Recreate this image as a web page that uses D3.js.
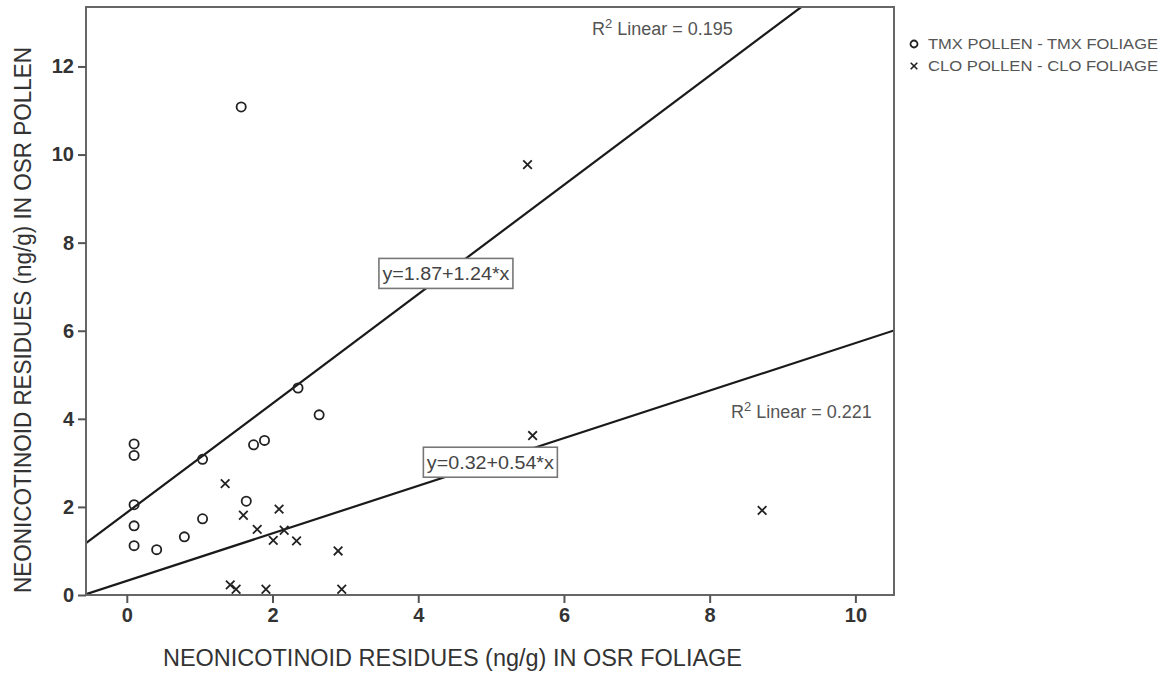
<!DOCTYPE html>
<html>
<head>
<meta charset="utf-8">
<script src="https://cdn.jsdelivr.net/npm/d3@7"></script>
<style>
  body { margin: 0; background: #fff; }
  text { font-family: "Liberation Sans", Arial, sans-serif; }
</style>
</head>
<body>
<svg id="chart"></svg>
<script>
// TMX pollen vs TMX foliage (circles)
const tmxFoliage = [0.10, 0.10, 0.10, 0.10, 0.10, 0.41, 0.79, 1.04, 1.04, 1.64, 1.74, 1.89, 2.35, 2.64, 1.57];
const tmxPollen  = [3.43, 3.17, 2.05, 1.57, 1.12, 1.03, 1.32, 1.73, 3.08, 2.13, 3.41, 3.51, 4.70, 4.09, 11.08];

// CLO pollen vs CLO foliage (crosses)
const cloFoliage = [1.35, 1.60, 1.79, 2.09, 2.01, 2.16, 2.33, 2.90, 1.42, 1.50, 1.91, 2.95, 5.50, 5.57, 8.72];
const cloPollen  = [2.53, 1.81, 1.49, 1.95, 1.24, 1.47, 1.23, 1.00, 0.23, 0.13, 0.13, 0.13, 9.77, 3.62, 1.92];

// fit lines: intercept, slope
const fitTmx = [1.87, 1.24];
const fitClo = [0.32, 0.54];

const xTicks = [0, 2, 4, 6, 8, 10];
const yTicks = [0, 2, 4, 6, 8, 10, 12];
const legendLabels = ["TMX POLLEN - TMX FOLIAGE", "CLO POLLEN - CLO FOLIAGE"];

const width = 1173, height = 674;
const margin = { left: 86, top: 7, right: 279, bottom: 79 };
const plotW = width - margin.left - margin.right;
const plotH = height - margin.top - margin.bottom;

const svg = d3.select('#chart')
    .attr('width', width)
    .attr('height', height);

const x = d3.scaleLinear().domain([-0.56, 10.53]).range([0, plotW]);
const y = d3.scaleLinear().domain([0, 13.35]).range([plotH, 0]);

const g = svg.append('g').attr('transform', `translate(${margin.left},${margin.top})`);

g.append('defs').append('clipPath').attr('id', 'clip')
    .append('rect').attr('width', plotW).attr('height', plotH);

// fit lines
function fitLine(fit) {
    const x0 = x.domain()[0], x1 = x.domain()[1];
    return [[x0, fit[0] + fit[1] * x0], [x1, fit[0] + fit[1] * x1]];
}
const line = d3.line().x(d => x(d[0])).y(d => y(d[1]));
[fitTmx, fitClo].forEach(f => {
    g.append('path')
        .attr('d', line(fitLine(f)))
        .attr('clip-path', 'url(#clip)')
        .style('fill', 'none')
        .style('stroke', '#1a1a1a')
        .style('stroke-width', 2.2);
});

// circles
g.selectAll('.tmx')
    .data(tmxFoliage.map((v, i) => [v, tmxPollen[i]]))
    .enter().append('circle')
    .attr('class', 'tmx')
    .attr('cx', d => x(d[0]))
    .attr('cy', d => y(d[1]))
    .attr('r', 4.6)
    .style('fill', 'none')
    .style('stroke', '#222')
    .style('stroke-width', 1.8);

// crosses
const cross = d3.symbol().type(d3.symbolX).size(50);
g.selectAll('.clo')
    .data(cloFoliage.map((v, i) => [v, cloPollen[i]]))
    .enter().append('path')
    .attr('class', 'clo')
    .attr('transform', d => `translate(${x(d[0])},${y(d[1])})`)
    .attr('d', cross)
    .style('fill', 'none')
    .style('stroke', '#222')
    .style('stroke-width', 1.8);

// equation boxes, centred on the fit line
function eqBox(fit, xVal, label) {
    const bx = g.append('g').attr('transform', `translate(${x(xVal)},${y(fit[0] + fit[1] * xVal)})`);
    bx.append('rect')
        .attr('x', -67).attr('y', -15)
        .attr('width', 134).attr('height', 30)
        .style('fill', '#fff')
        .style('stroke', '#777')
        .style('stroke-width', 1.6);
    bx.append('text')
        .attr('text-anchor', 'middle')
        .attr('dy', '0.36em')
        .attr('textLength', 127)
        .attr('lengthAdjust', 'spacingAndGlyphs')
        .style('font-size', '18px')
        .style('fill', '#444')
        .text(label);
}
eqBox(fitTmx, 4.38, 'y=1.87+1.24*x');
eqBox(fitClo, 4.99, 'y=0.32+0.54*x');

// R2 labels
function r2(xp, yp, val) {
    const t = g.append('text')
        .attr('x', xp).attr('y', yp)
        .style('font-size', '18px')
        .style('fill', '#555');
    t.append('tspan').text('R');
    t.append('tspan').attr('dy', -7).style('font-size', '13px').text('2');
    t.append('tspan').attr('dy', 7).text(' Linear = ' + val);
}
r2(506, 28, '0.195');
r2(645, 411, '0.221');

// frame
g.append('rect')
    .attr('width', plotW).attr('height', plotH)
    .style('fill', 'none')
    .style('stroke', '#666')
    .style('stroke-width', 2);

// axes
const xAxis = g.append('g')
    .attr('transform', `translate(0,${plotH})`)
    .call(d3.axisBottom(x).tickValues(xTicks).tickSize(8).tickSizeOuter(0).tickPadding(5));
const yAxis = g.append('g')
    .call(d3.axisLeft(y).tickValues(yTicks).tickSize(8).tickSizeOuter(0).tickPadding(4));
[xAxis, yAxis].forEach(a => {
    a.select('.domain').remove();
    a.selectAll('line').style('stroke', '#555').style('stroke-width', 2);
    a.selectAll('text')
        .style('font-family', '"Liberation Sans", Arial, sans-serif')
        .style('font-size', '20px')
        .style('font-weight', 'bold')
        .style('fill', '#333');
});

// axis titles
svg.append('text')
    .attr('x', 163).attr('y', 666)
    .attr('textLength', 579)
    .attr('lengthAdjust', 'spacingAndGlyphs')
    .style('font-size', '23px')
    .style('fill', '#333')
    .text('NEONICOTINOID RESIDUES (ng/g) IN OSR FOLIAGE');
svg.append('text')
    .attr('transform', 'translate(31,593) rotate(-90)')
    .attr('textLength', 546)
    .attr('lengthAdjust', 'spacingAndGlyphs')
    .style('font-size', '23px')
    .style('fill', '#333')
    .text('NEONICOTINOID RESIDUES (ng/g) IN OSR POLLEN');

// legend
const legend = svg.append('g').attr('transform', 'translate(914,44)');
legendLabels.forEach((lab, i) => {
    const row = legend.append('g').attr('transform', `translate(0,${i * 22})`);
    if (i === 0) {
        row.append('circle').attr('r', 3.5)
            .style('fill', 'none').style('stroke', '#222').style('stroke-width', 1.8);
    } else {
        row.append('path').attr('d', d3.symbol().type(d3.symbolX).size(30))
            .style('fill', 'none').style('stroke', '#222').style('stroke-width', 1.6);
    }
    row.append('text')
        .attr('x', 14).attr('dy', '0.36em')
        .attr('textLength', 230)
        .attr('lengthAdjust', 'spacingAndGlyphs')
        .style('font-size', '15px')
        .style('fill', '#555')
        .text(lab);
});
</script>
</body>
</html>
